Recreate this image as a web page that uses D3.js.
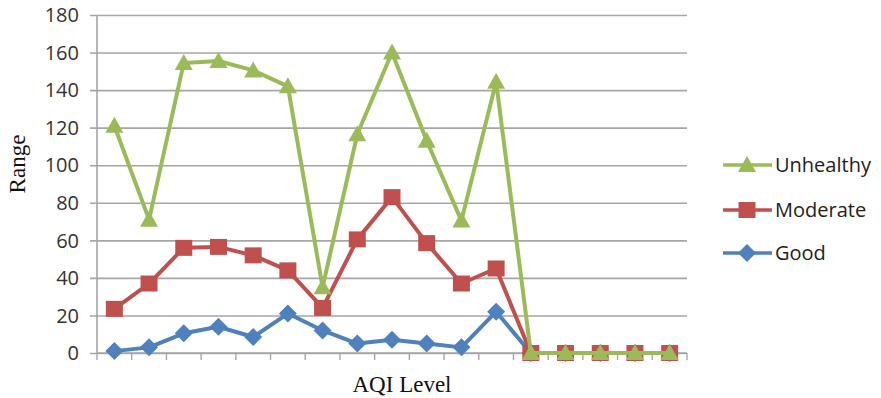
<!DOCTYPE html>
<html>
<head>
<meta charset="utf-8">
<script src="https://cdn.jsdelivr.net/npm/d3@7"></script>
<style>
  html, body { margin: 0; padding: 0; background: #fff; }
  svg { display: block; }
</style>
</head>
<body>
<svg id="chart" width="881" height="398"></svg>
<script>
// AQI ranges per observation point (17 points along the x axis)
const categories = d3.range(1, 18).map(String);
const seriesNames = ["Good", "Moderate", "Unhealthy"];
const goodValues      = [1, 3, 10.5, 14, 8.5, 21, 12, 5, 7, 5, 3, 22, 0, 0, 0, 0, 0];
const moderateValues  = [23.5, 37, 56, 56.5, 52, 44, 24, 60.5, 83, 58.5, 37, 45, 0, 0, 0, 0, 0];
const unhealthyValues = [121, 71, 154.5, 155.5, 150.5, 142, 35, 116.5, 160, 113, 70.5, 144.5, 0, 0, 0, 0, 0];
const yTicks = [0, 20, 40, 60, 80, 100, 120, 140, 160, 180];

const series = [
  { name: "Good",      values: goodValues,      color: "#4F81BD", marker: "diamond" },
  { name: "Moderate",  values: moderateValues,  color: "#C0504D", marker: "square" },
  { name: "Unhealthy", values: unhealthyValues, color: "#9BBB59", marker: "triangle" }
];

const svg = d3.select("#chart");
const plotLeft = 97, plotRight = 687, plotTop = 15, plotBottom = 353;

const x = d3.scaleBand().domain(categories).range([plotLeft, plotRight]).padding(0);
const y = d3.scaleLinear().domain([0, 180]).range([plotBottom, plotTop]);

// horizontal gridlines
svg.append("g")
  .attr("transform", `translate(${plotLeft},0)`)
  .call(d3.axisLeft(y).tickValues(yTicks).tickSize(-(plotRight - plotLeft)).tickSizeOuter(0).tickFormat(""))
  .call(g => g.select(".domain").remove())
  .call(g => g.selectAll(".tick line").attr("stroke", "#A6A6A6").attr("stroke-width", 1.6).attr("x1", -7));

// y tick labels
svg.append("g").selectAll("text").data(yTicks).join("text")
  .attr("x", 79).attr("y", d => y(d)).attr("dy", "0.36em")
  .attr("text-anchor", "end")
  .attr("font-family", "'Open Sans', sans-serif").attr("font-size", 20)
  .attr("fill", "#333")
  .text(d => d);

// left axis line
svg.append("line")
  .attr("x1", plotLeft).attr("x2", plotLeft).attr("y1", plotTop).attr("y2", plotBottom)
  .attr("stroke", "#A6A6A6").attr("stroke-width", 1.6);

// bottom axis with tick marks on category boundaries
const boundaries = categories.map(c => x(c)).concat([plotRight]);
svg.append("line")
  .attr("x1", plotLeft).attr("x2", plotRight).attr("y1", plotBottom).attr("y2", plotBottom)
  .attr("stroke", "#A6A6A6").attr("stroke-width", 1.6);
svg.append("g").selectAll("line").data(boundaries).join("line")
  .attr("x1", d => d).attr("x2", d => d).attr("y1", plotBottom).attr("y2", plotBottom + 7)
  .attr("stroke", "#A6A6A6").attr("stroke-width", 1.4);

// axis titles
svg.append("text")
  .attr("transform", "translate(25,164) rotate(-90)")
  .attr("text-anchor", "middle")
  .attr("font-family", "'Liberation Serif', 'Times New Roman', serif").attr("font-size", 23)
  .attr("fill", "#111")
  .text("Range");
svg.append("text")
  .attr("x", 402).attr("y", 392)
  .attr("text-anchor", "middle")
  .attr("font-family", "'Liberation Serif', 'Times New Roman', serif").attr("font-size", 23)
  .attr("fill", "#111")
  .text("AQI Level");

// marker shapes: square, wide diamond (rotated square) and triangle
const markerPath = {
  square: () => "M-8.5,-8M8.5,-8L8.5,8L-8.5,8L-8.5,-8Z",
  diamond: () => "M0,-9L9,0L0,9L-9,0Z",
  triangle: () => "M0,-9L9,7L-9,7Z"
};

const cx = c => x(c) + x.bandwidth() / 2;
const line = d3.line().x((d, i) => cx(categories[i])).y(d => y(d));

series.forEach(s => {
  const g = svg.append("g");
  g.append("path")
    .attr("d", line(s.values))
    .attr("fill", "none").attr("stroke", s.color)
    .attr("stroke-width", 4).attr("stroke-linejoin", "round");
  g.selectAll("path.m").data(s.values).join("path")
    .attr("class", "m")
    .attr("d", markerPath[s.marker])
    .attr("transform", (d, i) => `translate(${cx(categories[i])},${y(d)})`)
    .attr("fill", s.color);
});

// legend (Unhealthy on top)
const legendItems = [
  { s: series[2], y: 165 },
  { s: series[1], y: 210 },
  { s: series[0], y: 253 }
];
const lg = svg.append("g");
legendItems.forEach(item => {
  lg.append("line")
    .attr("x1", 723).attr("x2", 772).attr("y1", item.y).attr("y2", item.y)
    .attr("stroke", item.s.color).attr("stroke-width", 3.5);
  lg.append("path")
    .attr("d", markerPath[item.s.marker])
    .attr("transform", `translate(747,${item.y})`)
    .attr("fill", item.s.color);
  lg.append("text")
    .attr("x", 775).attr("y", item.y).attr("dy", "0.36em")
    .attr("font-family", "'Open Sans', sans-serif").attr("font-size", 20)
    .attr("fill", "#222")
    .text(item.s.name);
});
</script>
</body>
</html>
